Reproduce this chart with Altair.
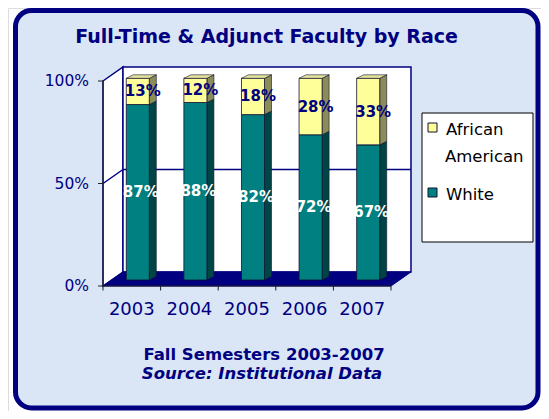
import altair as alt
import pandas as pd

# ---------------- data ----------------
years = ["2003", "2004", "2005", "2006", "2007"]
white = [87, 88, 82, 72, 67]
african_american = [13, 12, 18, 28, 33]
series = ["African American", "White"]
y_ticks = [0, 50, 100]
y_tick_labels = ["0%", "50%", "100%"]
title_text = "Full-Time & Adjunct Faculty by Race"
footer1 = "Fall Semesters 2003-2007"
footer2 = "Source: Institutional Data"

# ---------------- style ----------------
NAVY = "#000080"
TEAL = "#008080"
TEAL_SIDE = "#004545"
YELLOW = "#FFFF99"
YELLOW_SIDE = "#8C8C58"
YELLOW_TOP = "#E4E49C"
BG = "#DAE6F5"
FONT = "DejaVu Sans"

W, H = 533, 403
X = alt.Scale(domain=[-0.5, 4.5], range=[95, 383], nice=False, zero=False)
YA = alt.Scale(domain=[0, 100], range=[278, 73], nice=False, zero=False)
YB = alt.Scale(domain=[0, 100], range=[272, 70.3], nice=False, zero=False)
DX, DYA = 0.347, 6.83          # depth of the 3-D box (x units, axis %)
BOFF, BHW = 0.104, 0.2          # bar offset / half width (x units)
SDX, SDY = 0.1215, 1.735        # bar depth (x units, bar %)

# ---------------- tables ----------------
segs = []
for k, yr in enumerate(years):
    segs.append(dict(k=k, year=yr, series="White", lo=0, hi=white[k], val=white[k]))
    segs.append(dict(k=k, year=yr, series="African American", lo=white[k], hi=100, val=african_american[k]))
seg = pd.DataFrame(segs)
seg["xl"] = seg["k"] + BOFF - BHW
seg["xr"] = seg["k"] + BOFF + BHW
seg["xc"] = seg["k"] + BOFF
seg["mid"] = (seg["lo"] + seg["hi"]) / 2
seg["lab"] = seg["val"].astype(str) + "%"
seg["key"] = seg["year"] + seg["series"]

side_rows = []
for _, r in seg.iterrows():
    side_rows.append(dict(key=r.key, series=r.series, x=r.xr, top=r.hi, bot=r.lo))
    side_rows.append(dict(key=r.key, series=r.series, x=r.xr + SDX, top=r.hi + SDY, bot=r.lo + SDY))
side = pd.DataFrame(side_rows)

top_rows = []
for _, r in seg[seg.series == "African American"].iterrows():
    top_rows.append(dict(key=r.key, y=r.hi, xa=r.xl, xb=r.xr))
    top_rows.append(dict(key=r.key, y=r.hi + SDY, xa=r.xl + SDX, xb=r.xr + SDX))
topf = pd.DataFrame(top_rows)

one = pd.DataFrame({"a": [0]})
back = pd.DataFrame({"x1": [-0.5 + DX], "x2": [4.5 + DX], "y1": [DYA], "y2": [100 + DYA]})
sidewall = pd.DataFrame({"x": [-0.5, -0.5 + DX], "top": [100, 100 + DYA], "bot": [0, DYA]})
floor = pd.DataFrame({"y": [0, DYA], "xa": [-0.5, -0.5 + DX], "xb": [4.5, 4.5 + DX]})
grid_back = pd.DataFrame({"x1": [-0.5 + DX], "x2": [4.5 + DX], "y": [50 + DYA]})
grid_side = pd.DataFrame({"x1": [-0.5], "x2": [-0.5 + DX], "y1": [50], "y2": [50 + DYA]})
yt = pd.DataFrame({"v": y_ticks, "lab": y_tick_labels})
yt["x1"] = -0.5
yt["x2"] = -0.5 - 5 / 57.6
xt = pd.DataFrame({"x": [k - 0.5 for k in range(len(years) + 1)]})
xl = pd.DataFrame({"k": list(range(len(years))), "year": years})

color_front = alt.Scale(domain=series, range=[YELLOW, TEAL])
color_side = alt.Scale(domain=series, range=[YELLOW_SIDE, TEAL_SIDE])

# ---------------- layers ----------------
frame = alt.Chart(one).mark_rect(cornerRadius=16, fill=BG, stroke=NAVY, strokeWidth=5).encode(
    x=alt.value(7.5), x2=alt.value(530), y=alt.value(2.5), y2=alt.value(H - 3))

side_wall = alt.Chart(sidewall).mark_area(orient="vertical", fill="white", stroke=NAVY, strokeWidth=1.5).encode(
    x=alt.X("x:Q", scale=X, axis=None), y=alt.Y("top:Q", scale=YA, axis=None), y2="bot:Q")

back_wall = alt.Chart(back).mark_rect(fill="white", stroke=NAVY, strokeWidth=1.5).encode(
    x=alt.X("x1:Q", scale=X, axis=None), x2="x2:Q",
    y=alt.Y("y1:Q", scale=YA, axis=None), y2="y2:Q")

g_back = alt.Chart(grid_back).mark_rule(color=NAVY, strokeWidth=1.5).encode(
    x=alt.X("x1:Q", scale=X, axis=None), x2="x2:Q", y=alt.Y("y:Q", scale=YA, axis=None))
g_side = alt.Chart(grid_side).mark_rule(color=NAVY, strokeWidth=1.5).encode(
    x=alt.X("x1:Q", scale=X, axis=None), x2="x2:Q",
    y=alt.Y("y1:Q", scale=YA, axis=None), y2="y2:Q")

floor_l = alt.Chart(floor).mark_area(orient="horizontal", fill=NAVY, stroke=NAVY, strokeWidth=1).encode(
    y=alt.Y("y:Q", scale=YA, axis=None), x=alt.X("xa:Q", scale=X, axis=None), x2="xb:Q")

bar_side = alt.Chart(side).mark_area(orient="vertical", stroke="#101030", strokeWidth=0.6).encode(
    x=alt.X("x:Q", scale=X, axis=None), y=alt.Y("top:Q", scale=YB, axis=None), y2="bot:Q",
    color=alt.Color("series:N", scale=color_side, legend=None), detail="key:N")

bar_front = alt.Chart(seg).mark_rect(stroke="#101030", strokeWidth=0.8).encode(
    x=alt.X("xl:Q", scale=X, axis=None), x2="xr:Q",
    y=alt.Y("lo:Q", scale=YB, axis=None), y2="hi:Q",
    color=alt.Color("series:N", scale=color_front, legend=None))

bar_top = alt.Chart(topf).mark_area(orient="horizontal", fill=YELLOW_TOP, stroke="#101030", strokeWidth=0.6).encode(
    y=alt.Y("y:Q", scale=YB, axis=None), x=alt.X("xa:Q", scale=X, axis=None), x2="xb:Q", detail="key:N")

lab_white = alt.Chart(seg[seg.series == "White"]).mark_text(
    font=FONT, fontSize=15, fontWeight="bold", color="white", dx=3, baseline="middle").encode(
    x=alt.X("xc:Q", scale=X, axis=None), y=alt.Y("mid:Q", scale=YB, axis=None), text="lab:N")
lab_aa = alt.Chart(seg[seg.series == "African American"]).mark_text(
    font=FONT, fontSize=15, fontWeight="bold", color=NAVY, dx=5, baseline="middle").encode(
    x=alt.X("xc:Q", scale=X, axis=None), y=alt.Y("mid:Q", scale=YB, axis=None), text="lab:N")

y_axis_line = alt.Chart(one).mark_rule(color="#202020", strokeWidth=1).encode(
    x=alt.X("x:Q", scale=X, axis=None), y=alt.Y("y1:Q", scale=YA, axis=None), y2="y2:Q"
).transform_calculate(x="-0.5", y1="0", y2="100")
x_axis_line = alt.Chart(one).mark_rule(color="#202020", strokeWidth=1).encode(
    x=alt.X("x1:Q", scale=X, axis=None), x2="x2:Q", y=alt.Y("y:Q", scale=YA, axis=None)
).transform_calculate(x1="-0.5", x2="4.5", y="0")
y_tick_l = alt.Chart(yt).mark_rule(color="#202020", strokeWidth=1).encode(
    x=alt.X("x1:Q", scale=X, axis=None), x2="x2:Q", y=alt.Y("v:Q", scale=YA, axis=None))
x_tick_l = alt.Chart(xt).mark_rule(color="#202020", strokeWidth=1).encode(
    x=alt.X("x:Q", scale=X, axis=None), y=alt.Y("y1:Q", scale=YA, axis=None), y2="y2:Q"
).transform_calculate(y1="0", y2="-2.2")
y_labels = alt.Chart(yt).mark_text(font=FONT, fontSize=15.5, color=NAVY, align="right",
                                   baseline="middle", dx=-14).encode(
    x=alt.X("x1:Q", scale=X, axis=None), y=alt.Y("v:Q", scale=YA, axis=None), text="lab:N")
x_labels = alt.Chart(xl).mark_text(font=FONT, fontSize=18, color=NAVY, align="center",
                                   baseline="alphabetic", dy=29).encode(
    x=alt.X("k:Q", scale=X, axis=None), y=alt.Y("y:Q", scale=YA, axis=None), text="year:N"
).transform_calculate(y="0")

# legend (manual)
leg_box = alt.Chart(one).mark_rect(fill="white", stroke="black", strokeWidth=1).encode(
    x=alt.value(414), x2=alt.value(525), y=alt.value(105), y2=alt.value(234))
leg_sw1 = alt.Chart(one).mark_rect(fill=YELLOW, stroke="#101030", strokeWidth=1).encode(
    x=alt.value(420), x2=alt.value(429), y=alt.value(115), y2=alt.value(124))
leg_sw2 = alt.Chart(one).mark_rect(fill=TEAL, stroke="#101030", strokeWidth=1).encode(
    x=alt.value(420), x2=alt.value(429), y=alt.value(180), y2=alt.value(189))
aa_words = series[0].split(" ")
leg_t1 = alt.Chart(one).mark_text(font=FONT, fontSize=16.5, color="black", align="left",
                                  baseline="alphabetic", text=aa_words[0]).encode(
    x=alt.value(438), y=alt.value(127))
leg_t2 = alt.Chart(one).mark_text(font=FONT, fontSize=16.5, color="black", align="left",
                                  baseline="alphabetic", text=aa_words[1]).encode(
    x=alt.value(437), y=alt.value(154))
leg_t3 = alt.Chart(one).mark_text(font=FONT, fontSize=16.5, color="black", align="left",
                                  baseline="alphabetic", text=series[1]).encode(
    x=alt.value(438), y=alt.value(192))

title_l = alt.Chart(one).mark_text(font=FONT, fontSize=19, fontWeight="bold", color=NAVY,
                                   align="center", baseline="alphabetic", text=title_text).encode(
    x=alt.value(258.5), y=alt.value(35))
foot1 = alt.Chart(one).mark_text(font=FONT, fontSize=16.5, fontWeight="bold", color=NAVY,
                                 align="center", baseline="alphabetic", text=footer1).encode(
    x=alt.value(256), y=alt.value(352))
foot2 = alt.Chart(one).mark_text(font=FONT, fontSize=16.5, fontWeight="bold", fontStyle="italic",
                                 color=NAVY, align="center", baseline="alphabetic", text=footer2).encode(
    x=alt.value(254), y=alt.value(371))

chart = alt.layer(
    frame, side_wall, back_wall, g_back, g_side, floor_l,
    bar_side, bar_front, bar_top, lab_white, lab_aa,
    y_axis_line, x_axis_line, y_tick_l, x_tick_l, y_labels, x_labels,
    leg_box, leg_sw1, leg_sw2, leg_t1, leg_t2, leg_t3,
    title_l, foot1, foot2,
).resolve_scale(y="independent", color="independent").properties(
    width=W, height=H, autosize=alt.AutoSizeParams(type="none"), padding=0
).configure_view(stroke=None).configure(background="white")

chart.save("out.html", embed_options={"renderer": "svg", "actions": False})
